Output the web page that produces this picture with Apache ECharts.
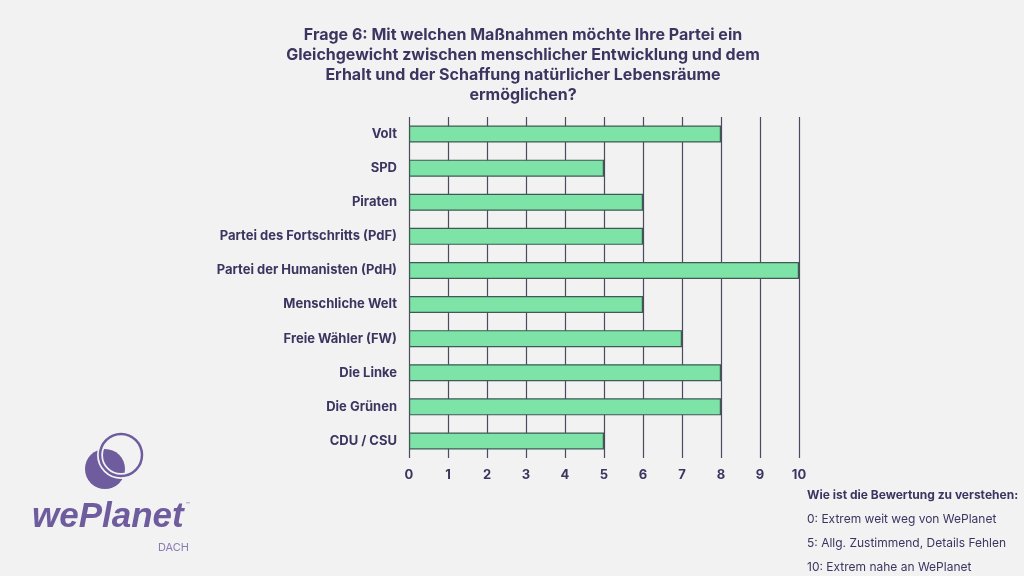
<!DOCTYPE html>
<html>
<head>
<meta charset="utf-8">
<script src="https://cdn.jsdelivr.net/npm/echarts@6/dist/echarts.min.js"></script>
<style>
  html, body { margin: 0; padding: 0; background: #f2f2f2; }
  #chart { width: 1024px; height: 576px; }
</style>
</head>
<body>
<div id="chart"></div>
<script>
// parties, top to bottom as shown
const parties = ['Volt', 'SPD', 'Piraten', 'Partei des Fortschritts (PdF)', 'Partei der Humanisten (PdH)',
  'Menschliche Welt', 'Freie Wähler (FW)', 'Die Linke', 'Die Grünen', 'CDU / CSU'];
const scores = [8, 5, 6, 6, 10, 6, 7, 8, 8, 5];

const titleText = 'Frage 6: Mit welchen Maßnahmen möchte Ihre Partei ein\nGleichgewicht zwischen menschlicher Entwicklung und dem\nErhalt und der Schaffung natürlicher Lebensräume\nermöglichen?';
const noteTitle = 'Wie ist die Bewertung zu verstehen:';
const noteLines = ['0: Extrem weit weg von WePlanet', '5: Allg. Zustimmend, Details Fehlen', '10: Extrem nahe an WePlanet'];

const ink = '#3b3560';
const purple = '#6e5c9e';
const font = 'Inter, "Noto Sans", sans-serif';

const chart = echarts.init(document.getElementById('chart'));

chart.setOption({
  backgroundColor: '#f2f2f2',
  textStyle: { fontFamily: font },
  title: {
    text: titleText,
    left: 518,
    top: 20,
    textAlign: 'center',
    textStyle: { fontSize: 16, fontWeight: 'bold', color: ink, lineHeight: 20, fontFamily: font }
  },
  grid: { left: 409, top: 117, width: 390, height: 341 },
  xAxis: {
    type: 'value',
    min: 0,
    max: 10,
    interval: 1,
    axisLine: { show: false },
    axisTick: { show: false },
    axisLabel: { color: ink, fontWeight: 'bold', fontSize: 13, margin: 11 },
    splitLine: { show: true, lineStyle: { color: '#4b4a5e', width: 1.2 } }
  },
  yAxis: {
    type: 'category',
    inverse: true,
    data: parties,
    axisLine: { show: false },
    axisTick: { show: false },
    axisLabel: { color: ink, fontWeight: 'bold', fontSize: 13, margin: 12 }
  },
  series: [{
    type: 'bar',
    data: scores,
    barWidth: 17,
    itemStyle: { color: '#7de3a6', borderColor: '#3d5a55', borderWidth: 1.2 },
    z: 3
  }],
  graphic: [
    // logo
    { type: 'circle', shape: { cx: 105, cy: 469, r: 20 }, style: { fill: purple } },
    { type: 'circle', shape: { cx: 121, cy: 455, r: 21 }, style: { fill: 'none', stroke: '#f2f2f2', lineWidth: 6 } },
    { type: 'circle', shape: { cx: 121, cy: 455, r: 21 }, style: { fill: 'none', stroke: purple, lineWidth: 2.5 } },
    { type: 'text', left: 32, top: 500, style: { text: 'wePlanet', fill: purple, font: 'italic bold 35px "Liberation Sans", sans-serif' } },
    { type: 'text', left: 158, top: 542, style: { text: 'DACH', fill: '#8a7cb4', font: '11px ' + font } },
    { type: 'text', left: 186, top: 502, style: { text: '™', fill: purple, font: '6px ' + font } },
    // rating note
    { type: 'text', left: 807, top: 489, style: { text: noteTitle, fill: ink, font: 'bold 12px ' + font } },
    { type: 'text', left: 807, top: 513, style: { text: noteLines[0], fill: ink, font: '12px ' + font } },
    { type: 'text', left: 807, top: 537, style: { text: noteLines[1], fill: ink, font: '12px ' + font } },
    { type: 'text', left: 807, top: 561, style: { text: noteLines[2], fill: ink, font: '12px ' + font } }
  ]
});
</script>
</body>
</html>
